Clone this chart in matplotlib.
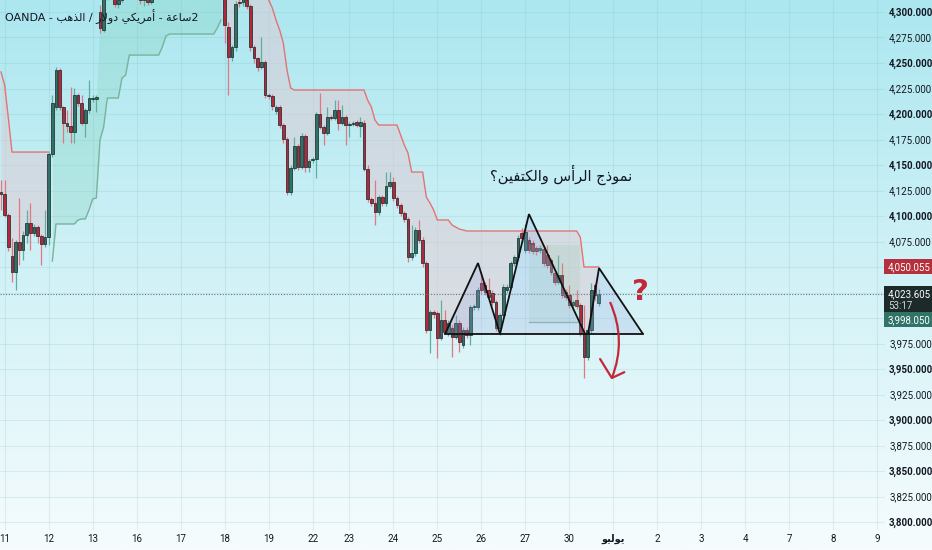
import matplotlib as mpl
mpl.use('Agg')

import numpy as np
import matplotlib.pyplot as plt
from matplotlib.path import Path
from matplotlib.patches import PathPatch, Polygon, Rectangle

# ---- 2h candles, OHLC (index 0 = first visible bar) ----
opens = [
    4123.5, 4121.6, 4101.0, 4060.8, 4045.1, 4074.5, 4066.7, 4081.4, 4093.1, 4083.3,
    4089.2, 4080.4, 4072.5, 4079.4, 4160.8, 4206.9, 4243.1, 4206.9, 4191.2, 4188.2,
    4182.4, 4218.6, 4210.8, 4191.2, 4203.9, 4214.7, 4214.7, 4300.0, 4282.4, 4316.0,
    4328.0, 4320.0, 4308.0, 4312.0, 4325.0, 4338.0, 4330.0, 4342.0, 4325.0, 4312.0,
    4316.0, 4310.0, 4320.0, 4332.0, 4344.0, 4352.0, 4346.0, 4356.0, 4364.0, 4355.0,
    4348.0, 4358.0, 4366.0, 4360.0, 4368.0, 4356.0, 4346.0, 4352.0, 4340.0, 4330.0,
    4336.0, 4322.0, 4285.3, 4255.9, 4265.7, 4309.8, 4309.8, 4312.0, 4305.9, 4265.7,
    4254.9, 4246.1, 4251.0, 4218.6, 4217.7, 4203.0, 4206.9, 4189.2, 4175.5, 4123.5,
    4147.0, 4168.6, 4148.0, 4178.4, 4148.0, 4155.0, 4155.9, 4200.0, 4187.3, 4181.4,
    4197.1, 4196.1, 4203.9, 4191.2, 4197.1, 4189.2, 4190.2, 4192.2, 4188.2, 4191.2,
    4146.1, 4116.7, 4112.7, 4103.9, 4118.6, 4112.7, 4129.4, 4133.3, 4117.6, 4110.8,
    4102.9, 4097.1, 4059.8, 4063.7, 4086.3, 4076.5, 4053.9, 3988.2, 4005.9, 4004.9,
    3980.4, 3998.0, 3985.3, 3990.2, 3981.4, 3995.1, 3973.5, 3988.2, 3983.3, 4010.8,
    4010.8, 4034.3, 4032.3, 4027.4, 4024.5, 4015.7, 3990.2, 4002.9, 4027.4, 4030.4,
    4053.9, 4059.8, 4083.3, 4066.7, 4076.5, 4073.5, 4068.6, 4066.7, 4067.6, 4061.8,
    4056.9, 4044.1, 4035.3, 4042.2, 4025.5, 4022.5, 4012.7, 4017.6, 4012.7, 3985.3,
    3961.7, 3988.2, 4032.3, 4014.7,
]
highs = [
    4135.3, 4135.3, 4103.0, 4078.4, 4076.5, 4117.6, 4085.3, 4105.9, 4112.7, 4092.0,
    4091.0, 4082.0, 4105.9, 4163.0, 4218.6, 4246.1, 4245.0, 4208.0, 4204.0, 4226.5,
    4225.5, 4221.0, 4218.6, 4206.0, 4233.3, 4219.0, 4218.6, 4306.9, 4320.0, 4333.0,
    4335.0, 4324.0, 4318.0, 4330.0, 4342.0, 4345.0, 4348.0, 4346.0, 4328.0, 4322.0,
    4320.0, 4326.0, 4336.0, 4350.0, 4358.0, 4360.0, 4362.0, 4370.0, 4368.0, 4358.0,
    4362.0, 4372.0, 4370.0, 4374.0, 4371.0, 4359.0, 4356.0, 4354.0, 4343.0, 4340.0,
    4338.0, 4326.0, 4290.0, 4268.0, 4311.0, 4313.0, 4318.0, 4316.0, 4308.0, 4268.0,
    4256.0, 4275.5, 4253.0, 4221.0, 4220.0, 4209.0, 4209.0, 4191.0, 4177.0, 4150.0,
    4177.4, 4171.0, 4181.0, 4180.0, 4156.0, 4158.0, 4202.0, 4220.6, 4189.0, 4206.9,
    4199.0, 4213.7, 4213.7, 4208.8, 4199.0, 4192.0, 4193.0, 4194.0, 4197.1, 4194.0,
    4150.0, 4119.0, 4135.3, 4121.0, 4121.0, 4143.1, 4143.0, 4138.2, 4120.0, 4113.0,
    4105.0, 4099.0, 4091.2, 4089.0, 4096.1, 4079.0, 4056.0, 4008.0, 4008.0, 4007.0,
    4017.6, 4007.8, 3998.0, 3993.0, 4002.9, 3998.0, 3991.0, 3991.0, 4013.0, 4014.0,
    4030.0, 4044.1, 4035.0, 4039.2, 4027.0, 4018.0, 4005.0, 4033.0, 4033.0, 4056.0,
    4062.0, 4081.0, 4088.2, 4092.2, 4079.0, 4076.0, 4071.0, 4072.0, 4070.0, 4071.5,
    4059.0, 4047.0, 4061.8, 4053.9, 4028.0, 4032.3, 4018.0, 4027.4, 4015.0, 4012.7,
    3991.0, 4034.3, 4034.3, 4028.0,
]
lows = [
    4105.9, 4099.0, 4066.0, 4035.3, 4027.4, 4052.0, 4056.9, 4073.5, 4066.7, 4080.0,
    4073.5, 4052.0, 4070.0, 4071.5, 4158.0, 4204.0, 4204.0, 4171.5, 4182.0, 4171.5,
    4171.5, 4208.0, 4189.0, 4177.4, 4201.0, 4212.0, 4202.0, 4279.4, 4280.0, 4312.0,
    4315.0, 4305.0, 4304.0, 4310.0, 4322.0, 4326.0, 4328.0, 4320.0, 4308.0, 4306.0,
    4307.0, 4308.0, 4318.0, 4330.0, 4340.0, 4341.0, 4343.0, 4352.0, 4350.0, 4342.0,
    4345.0, 4354.0, 4356.0, 4357.0, 4352.0, 4341.0, 4342.0, 4334.0, 4324.0, 4326.0,
    4316.0, 4269.6, 4218.6, 4252.0, 4262.0, 4305.0, 4306.0, 4303.0, 4262.0, 4250.0,
    4242.0, 4244.0, 4216.0, 4215.0, 4204.0, 4200.0, 4186.0, 4172.0, 4120.6, 4121.0,
    4145.0, 4145.0, 4146.0, 4143.1, 4143.0, 4152.0, 4137.3, 4185.0, 4169.6, 4179.0,
    4194.0, 4194.0, 4184.3, 4189.0, 4169.6, 4177.4, 4188.0, 4187.0, 4177.4, 4144.0,
    4114.0, 4110.0, 4091.2, 4101.0, 4110.0, 4110.0, 4127.0, 4115.0, 4108.0, 4100.0,
    4094.0, 4054.9, 4057.0, 4061.0, 4074.0, 4050.0, 3985.0, 3965.7, 4000.0, 3960.8,
    3978.0, 3984.0, 3982.0, 3961.7, 3979.0, 3966.7, 3970.6, 3980.0, 3973.5, 4008.0,
    4008.0, 4025.0, 4023.0, 4018.0, 4013.0, 3987.0, 3983.3, 4000.0, 4025.0, 4028.0,
    4051.0, 4057.0, 4075.0, 4064.0, 4064.0, 4063.0, 4062.0, 4064.0, 4051.0, 4049.0,
    4042.0, 4032.0, 4033.0, 4020.0, 4018.0, 4010.0, 4010.0, 4009.0, 3982.0, 3941.2,
    3958.8, 3985.0, 4018.0, 4012.0,
]
closes = [
    4121.6, 4101.0, 4069.6, 4045.1, 4074.5, 4066.7, 4081.4, 4093.1, 4083.3, 4089.2,
    4080.4, 4072.5, 4079.4, 4160.8, 4210.8, 4243.1, 4206.9, 4191.2, 4188.2, 4182.4,
    4218.6, 4210.8, 4191.2, 4203.9, 4215.7, 4215.7, 4216.7, 4284.3, 4316.0, 4328.0,
    4320.0, 4308.0, 4312.0, 4325.0, 4338.0, 4330.0, 4342.0, 4325.0, 4312.0, 4316.0,
    4310.0, 4320.0, 4332.0, 4344.0, 4352.0, 4346.0, 4356.0, 4364.0, 4355.0, 4348.0,
    4358.0, 4366.0, 4360.0, 4368.0, 4356.0, 4346.0, 4352.0, 4340.0, 4330.0, 4336.0,
    4322.0, 4287.2, 4255.9, 4265.7, 4307.8, 4308.8, 4313.0, 4305.9, 4265.7, 4254.9,
    4246.1, 4251.0, 4218.6, 4217.7, 4207.8, 4206.9, 4189.2, 4175.5, 4123.5, 4147.0,
    4168.6, 4148.0, 4178.4, 4148.0, 4153.9, 4155.9, 4200.0, 4187.3, 4181.4, 4197.1,
    4196.1, 4203.9, 4191.2, 4197.1, 4189.2, 4190.2, 4191.2, 4189.2, 4192.2, 4146.1,
    4116.7, 4112.7, 4103.9, 4118.6, 4112.7, 4129.4, 4133.3, 4117.6, 4110.8, 4102.9,
    4097.1, 4059.8, 4063.7, 4086.3, 4076.5, 4053.9, 3988.2, 4005.9, 4003.9, 3980.4,
    3998.0, 3986.3, 3995.1, 3981.4, 3995.1, 3976.5, 3988.2, 3983.3, 4010.8, 4011.8,
    4027.4, 4027.4, 4025.5, 4020.6, 4015.7, 3990.2, 4002.9, 4030.4, 4030.4, 4053.9,
    4059.8, 4078.4, 4078.4, 4084.3, 4066.7, 4065.7, 4065.7, 4068.6, 4053.9, 4052.0,
    4045.1, 4035.3, 4042.2, 4022.5, 4020.6, 4012.7, 4015.7, 4011.8, 3985.3, 3961.7,
    3988.2, 4027.4, 4022.5, 4023.6,
]

# trailing-stop line (red above price / green below), one value per bar
trail = [
    4241.2, 4228.4, 4196.1, 4162.7, 4162.7, 4162.7, 4162.7, 4162.7, 4162.7, 4162.7,
    4162.7, 4162.7, 4162.7, 4162.7,
    4055.9, 4092.2, 4092.2, 4092.2, 4092.2, 4092.2, 4092.2, 4096.1, 4097.1, 4097.1,
    4105.9, 4116.7, 4117.6, 4174.5, 4187.3, 4215.7, 4215.7, 4215.7, 4215.7, 4235.3,
    4238.2, 4257.8, 4257.8, 4257.8, 4257.8, 4257.8, 4257.8, 4257.8, 4257.8, 4257.8,
    4265.7, 4276.5, 4278.4, 4278.4, 4278.4, 4278.4, 4278.4, 4278.4, 4278.4, 4278.4,
    4278.4, 4278.4, 4278.4, 4278.4, 4278.4, 4284.3, 4292.2,
    4372.0, 4372.0, 4372.0, 4372.0, 4365.0, 4360.0, 4360.0, 4360.0, 4345.0, 4335.0,
    4330.0, 4322.0, 4311.8, 4304.0, 4292.2, 4282.4, 4269.6, 4243.1, 4225.5, 4223.5,
    4223.5, 4223.5, 4223.5, 4223.5, 4223.5, 4223.5, 4223.5, 4223.5, 4223.5, 4223.5,
    4223.5, 4223.5, 4223.5, 4223.5, 4223.5, 4223.5, 4223.5, 4223.5, 4223.5, 4213.7,
    4206.9, 4194.1, 4189.2, 4189.2, 4189.2, 4189.2, 4189.2, 4189.2, 4179.4, 4169.6,
    4161.8, 4143.1, 4143.1, 4143.1, 4143.1, 4118.6, 4112.7, 4105.9, 4096.1, 4096.1,
    4096.1, 4096.1, 4091.2, 4089.2, 4087.2, 4086.3, 4085.3, 4085.3, 4085.3, 4085.3,
    4085.3, 4085.3, 4085.3, 4085.3, 4085.3, 4085.3, 4085.3, 4085.3, 4085.3, 4085.3,
    4085.3, 4085.3, 4085.3, 4085.3, 4085.3, 4085.3, 4085.3, 4085.3, 4085.3, 4085.3,
    4085.3, 4085.3, 4085.3, 4085.3, 4085.3, 4085.3, 4085.3, 4079.4, 4050.0, 4050.055,
    4050.055, 4050.055, 4050.055, 4050.055,
]
# (first bar, last bar, trend) for each stretch of the trailing line
trail_segments = [(0, 13, 'down'), (14, 60, 'up'), (61, 163, 'down')]

day_ticks = [1, 13, 25, 37, 49, 61, 73, 85, 95, 107, 119, 131, 143, 155, 167,
             179, 191, 203, 215, 227, 239]
day_labels = ['11', '12', '13', '16', '17', '18', '19', '22', '23', '24', '25',
              '26', '27', '30', 'يوليو', '2', '3', '4', '7', '8', '9']
month_label = 'يوليو'

last_price = 4023.605
stop_price = 4050.055
green_level = 3998.050
countdown = '53:17'
hidden_ticks = [4050, 4025, 4000]   # covered by the price boxes

# hand-drawn head & shoulders (bar index, price)
left_shoulder = [(121.1, 3984.3), (130.1, 4053.9), (136.1, 3984.3)]
head = [(136.1, 3984.3), (144.0, 4101.9), (159.3, 3984.3)]
right_shoulder = [(160.1, 3984.3), (163.1, 4049.0), (175.1, 3984.3)]
neckline = [(121.1, 3984.3), (175.1, 3984.3)]
head_box = [(144.0, 3996.0), (158.0, 4071.6)]
arrow_curve = [(166.1, 4015.7), (170.7, 3978.4), (166.6, 3941.2)]
arrow_head = [(163.4, 3959.8), (166.6, 3941.2), (170.0, 3946.9)]
question_at = (174.3, 4025.5)
pattern_label_at = (152.7, 4140.2)


# --- tiny Arabic shaper (matplotlib has no bidi / joining) ---
AR_FORMS = {
    'ا': ('\ufe8d', '\ufe8e', None, None), 'أ': ('\ufe83', '\ufe84', None, None),
    'ب': ('\ufe8f', '\ufe90', '\ufe91', '\ufe92'), 'ة': ('\ufe93', '\ufe94', None, None),
    'ت': ('\ufe95', '\ufe96', '\ufe97', '\ufe98'), 'ج': ('\ufe9d', '\ufe9e', '\ufe9f', '\ufea0'),
    'د': ('\ufea9', '\ufeaa', None, None), 'ذ': ('\ufeab', '\ufeac', None, None),
    'ر': ('\ufead', '\ufeae', None, None), 'س': ('\ufeb1', '\ufeb2', '\ufeb3', '\ufeb4'),
    'ع': ('\ufec9', '\ufeca', '\ufecb', '\ufecc'), 'ف': ('\ufed1', '\ufed2', '\ufed3', '\ufed4'),
    'ك': ('\ufed9', '\ufeda', '\ufedb', '\ufedc'), 'ل': ('\ufedd', '\ufede', '\ufedf', '\ufee0'),
    'م': ('\ufee1', '\ufee2', '\ufee3', '\ufee4'), 'ن': ('\ufee5', '\ufee6', '\ufee7', '\ufee8'),
    'ه': ('\ufee9', '\ufeea', '\ufeeb', '\ufeec'), 'و': ('\ufeed', '\ufeee', None, None),
    'ي': ('\ufef1', '\ufef2', '\ufef3', '\ufef4'),
}
LAM_ALEF = {'ا': ('\ufefb', '\ufefc'), 'أ': ('\ufef7', '\ufef8')}


def shape(text):
    words = []
    for word in text.split(' '):
        toks, k = [], 0
        while k < len(word):
            if word[k] == 'ل' and k + 1 < len(word) and word[k + 1] in LAM_ALEF:
                toks.append(('LA', word[k + 1]))
                k += 2
            else:
                toks.append(('C', word[k]))
                k += 1

        def dual(t):
            return t[0] == 'C' and t[1] in AR_FORMS and AR_FORMS[t[1]][2] is not None

        def arabic(t):
            return t[0] == 'LA' or t[1] in AR_FORMS

        out = []
        for n, t in enumerate(toks):
            jp = n > 0 and dual(toks[n - 1]) and arabic(t)
            jn = dual(t) and n + 1 < len(toks) and arabic(toks[n + 1])
            if t[0] == 'LA':
                out.append(LAM_ALEF[t[1]][1 if jp else 0])
            elif t[1] in AR_FORMS:
                out.append(AR_FORMS[t[1]][3 if (jp and jn) else 1 if jp else 2 if jn else 0])
            else:
                out.append(t[1])
        words.append(''.join(reversed(out)))
    return ' '.join(reversed(words))


W, H = 932, 550
fig = plt.figure(figsize=(W / 100, H / 100), dpi=100)

# background gradient
bg = fig.add_axes([0, 0, 1, 1], zorder=-10)
top = np.array([172, 231, 240]) / 255
bot = np.array([246, 252, 253]) / 255
t = np.linspace(0, 1, 256)[:, None]
grad = top * (1 - t) + bot * t
bg.imshow(grad[:, None, :], aspect='auto', extent=[0, 1, 0, 1])
bg.axis('off')

ax = fig.add_axes([0, 20 / H, 885 / W, 530 / H])
ax.set_facecolor('none')
for s in ax.spines.values():
    s.set_visible(False)

ax.set_xlim(-0.27, 241.1)
ax.set_ylim(3792.2, 4311.76)

# grid
yt = np.arange(3800, 4301, 25)
for v in yt:
    ax.axhline(v, color='#6fa9b3', alpha=0.16, lw=0.8, zorder=0)
for v in day_ticks:
    ax.axvline(v, color='#6fa9b3', alpha=0.16, lw=0.8, zorder=0)

o = np.array(opens)
c = np.array(closes)
hi = np.array(highs)
lo = np.array(lows)
tr = np.array(trail)
idx = np.arange(len(o))
mid = (o + c) / 2

# trailing stop line + fill to the body middle
for a, b, kind in trail_segments:
    xs = idx[a:b + 1]
    if kind == 'down':
        ax.fill_between(xs, tr[a:b + 1], mid[a:b + 1], color='#dcccd4', alpha=0.55,
                        lw=0, zorder=1)
        ax.plot(xs, tr[a:b + 1], color='#e57373', lw=1.0, zorder=2)
    else:
        ax.fill_between(xs, tr[a:b + 1], mid[a:b + 1], color='#7ccfb4', alpha=0.26,
                        lw=0, zorder=1)
        ax.plot(xs, tr[a:b + 1], color='#78b49c', lw=1.0, zorder=2)

# candles
up = c >= o
body_col = np.where(up, '#2f7366', '#b3283a')
wick_col = np.where(up, '#5fae9e', '#e27784')
ax.vlines(idx, lo, hi, colors=wick_col, lw=0.9, zorder=3)
ax.bar(idx, np.maximum(np.abs(c - o), 0.9), bottom=np.minimum(o, c), width=0.74,
       color=body_col, edgecolor='#1b2124', linewidth=0.5, zorder=4)

# current price dotted line
ax.axhline(last_price, color='#6c7a80', lw=0.8, ls=(0, (1, 1.5)), zorder=5)

# pattern drawing
(bx0, by0), (bx1, by1) = head_box
ax.add_patch(Rectangle((bx0, by0), bx1 - bx0, by1 - by0, facecolor='#8cc4a4',
                       alpha=0.18, edgecolor='none', zorder=5))
ax.plot([bx0, bx1], [by0, by0], color='#8fb8a8', lw=1.0, zorder=5)
for tri in (left_shoulder, head, right_shoulder):
    ax.add_patch(Polygon(tri, closed=True, facecolor='#96a4e0', alpha=0.22,
                         edgecolor='none', zorder=6))
    ax.add_patch(Polygon(tri, closed=False, facecolor='none', edgecolor='#111111',
                         lw=1.3, zorder=7))
ax.plot(*zip(*neckline), color='#111111', lw=1.3, zorder=7)

ax.add_patch(PathPatch(Path(arrow_curve, [Path.MOVETO, Path.CURVE3, Path.CURVE3]),
                       facecolor='none', edgecolor='#c3283a', lw=1.6, zorder=8))
ax.plot(*zip(*arrow_head), color='#c3283a', lw=1.6, solid_capstyle='round', zorder=8)
ax.text(*question_at, '?', color='#c3283a', fontsize=21, fontweight='bold',
        ha='center', va='center', zorder=8)
ax.text(*pattern_label_at, shape('نموذج الرأس والكتفين؟'), fontsize=10.5,
        color='#131722', ha='center', va='center', family='DejaVu Sans', zorder=8)

# date axis
ax.set_xticks(day_ticks, [shape(s) if s == month_label else s for s in day_labels])
ax.tick_params(axis='x', length=0, pad=3, labelsize=7, labelcolor='#131722')
for s, lab in zip(day_labels, ax.get_xticklabels()):
    if s == month_label:
        lab.set_family('DejaVu Sans')
        lab.set_fontweight('bold')
    else:
        lab.set_family('Roboto')

# price axis
ax.yaxis.tick_right()
ax.set_yticks(yt, ['' if v in hidden_ticks else f'{v:,.3f}' for v in yt])
ax.tick_params(axis='y', length=0, pad=3, labelsize=7, labelcolor='#131722')
for v, lab in zip(yt, ax.get_yticklabels()):
    lab.set_family('Roboto')
    if v % 50 == 0:
        lab.set_fontweight('bold')

# title
title = ('OANDA - ' + shape('الذهب') + ' / ' + shape('دولار') + ' ' +
         shape('أمريكي') + ' - ' + shape('2ساعة'))
fig.text(5 / W, 1 - 17 / H, title, fontsize=8, color='#131722', ha='left',
         va='center', family='DejaVu Sans')


# price boxes on the right scale
def ypix(p):
    return (4311.76 - p) / 0.9804


def price_box(p, text, face, h=15, extra=None):
    yc = ypix(p)
    y0 = yc - 7.5
    fig.patches.append(Rectangle((884 / W, 1 - (y0 + h) / H), 48 / W, h / H,
                                 transform=fig.transFigure, facecolor=face,
                                 edgecolor='none', zorder=5))
    fig.text(888 / W, 1 - yc / H, text, color='white', fontsize=7, va='center',
             ha='left', family='Roboto', zorder=6)
    if extra:
        fig.text(888 / W, 1 - (yc + 12.5) / H, extra, color='#d0d6d6', fontsize=7,
                 va='center', ha='left', family='Roboto', zorder=6)


price_box(stop_price, f'{stop_price:,.3f}', '#b5303c')
price_box(last_price, f'{last_price:,.3f}', '#1d2a2a', h=26, extra=countdown)
price_box(green_level, f'{green_level:,.3f}', '#2f7467')

fig.savefig('out.png', dpi=100)
